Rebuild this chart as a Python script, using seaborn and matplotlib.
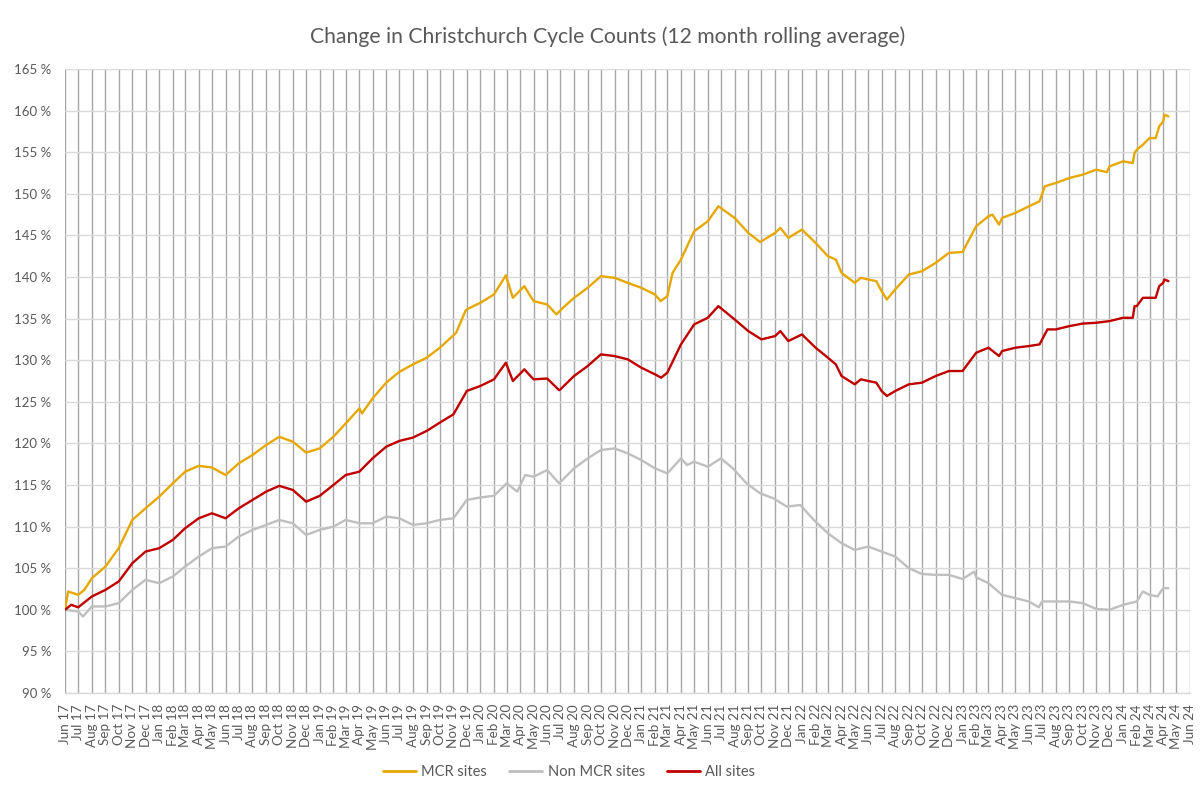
import pandas as pd
import numpy as np
import matplotlib
matplotlib.use("Agg")
import matplotlib.pyplot as plt
import matplotlib.dates as mdates
from matplotlib.ticker import MultipleLocator, FuncFormatter
from matplotlib.lines import Line2D
import seaborn as sns

# ---- data: 12 month rolling average, indexed to June 2017 = 100 % ----
mcr_dates = [
    "2017-06-01", "2017-06-08", "2017-07-01", "2017-07-15", "2017-08-01", "2017-09-01",
    "2017-10-01", "2017-11-01", "2017-12-01", "2018-01-01", "2018-02-01", "2018-03-01",
    "2018-04-01", "2018-05-01", "2018-06-01", "2018-07-01", "2018-08-01", "2018-09-01",
    "2018-10-01", "2018-11-01", "2018-12-01", "2019-01-01", "2019-02-01", "2019-03-01",
    "2019-04-01", "2019-04-07", "2019-05-01", "2019-06-01", "2019-07-01", "2019-08-01",
    "2019-09-01", "2019-10-01", "2019-11-01", "2019-11-07", "2019-11-28", "2019-12-01",
    "2020-01-01", "2020-02-01", "2020-02-28", "2020-03-15", "2020-04-10", "2020-05-01",
    "2020-06-01", "2020-06-22", "2020-07-07", "2020-08-01", "2020-09-01", "2020-10-01",
    "2020-11-01", "2020-12-01", "2021-01-01", "2021-02-01", "2021-02-14", "2021-03-01",
    "2021-03-13", "2021-04-01", "2021-05-01", "2021-06-01", "2021-06-25", "2021-08-01",
    "2021-09-01", "2021-09-28", "2021-11-01", "2021-11-13", "2021-12-01", "2022-01-01",
    "2022-02-01", "2022-03-01", "2022-03-19", "2022-04-01", "2022-05-01", "2022-05-15",
    "2022-06-01", "2022-06-19", "2022-07-01", "2022-07-13", "2022-08-01", "2022-09-01",
    "2022-10-01", "2022-11-01", "2022-12-01", "2023-01-01", "2023-02-01", "2023-03-01",
    "2023-03-10", "2023-03-25", "2023-04-01", "2023-05-01", "2023-06-01", "2023-06-25",
    "2023-07-07", "2023-08-01", "2023-09-01", "2023-10-01", "2023-11-01", "2023-11-25",
    "2023-12-01", "2024-01-01", "2024-01-23", "2024-01-27", "2024-02-01", "2024-02-15",
    "2024-03-01", "2024-03-15", "2024-03-23", "2024-04-01", "2024-04-04", "2024-04-13",
]
mcr_values = [
    100.0, 102.2, 101.8, 102.4, 103.8, 105.2,
    107.4, 110.8, 112.2, 113.6, 115.2, 116.6,
    117.3, 117.1, 116.2, 117.6, 118.6, 119.8,
    120.8, 120.2, 118.9, 119.4, 120.8, 122.4,
    124.2, 123.6, 125.4, 127.3, 128.6, 129.5,
    130.3, 131.5, 133.0, 133.3, 135.9, 136.1,
    136.9, 137.9, 140.2, 137.5, 138.9, 137.1,
    136.7, 135.5, 136.3, 137.5, 138.7, 140.1,
    139.9, 139.3, 138.7, 137.9, 137.1, 137.7,
    140.5, 142.1, 145.5, 146.7, 148.5, 147.1,
    145.3, 144.2, 145.3, 145.9, 144.7, 145.7,
    144.1, 142.5, 142.1, 140.5, 139.3, 139.9,
    139.7, 139.5, 138.3, 137.3, 138.5, 140.3,
    140.7, 141.7, 142.9, 143.0, 146.1, 147.3,
    147.5, 146.3, 147.1, 147.7, 148.5, 149.1,
    150.9, 151.3, 151.9, 152.3, 152.9, 152.6,
    153.3, 153.9, 153.7, 154.9, 155.3, 155.9,
    156.7, 156.7, 158.1, 158.7, 159.5, 159.3,
]

non_mcr_dates = [
    "2017-06-01", "2017-07-01", "2017-07-12", "2017-08-01", "2017-09-01", "2017-10-01",
    "2017-11-01", "2017-12-01", "2018-01-01", "2018-02-01", "2018-03-01", "2018-04-01",
    "2018-05-01", "2018-06-01", "2018-07-01", "2018-08-01", "2018-09-01", "2018-10-01",
    "2018-11-01", "2018-12-01", "2019-01-01", "2019-02-01", "2019-03-01", "2019-04-01",
    "2019-05-01", "2019-06-01", "2019-07-01", "2019-08-01", "2019-09-01", "2019-10-01",
    "2019-11-01", "2019-12-01", "2020-01-01", "2020-02-01", "2020-03-01", "2020-03-25",
    "2020-04-12", "2020-05-01", "2020-06-01", "2020-06-28", "2020-08-01", "2020-09-01",
    "2020-10-01", "2020-11-01", "2020-12-01", "2021-01-01", "2021-02-01", "2021-03-01",
    "2021-04-01", "2021-04-15", "2021-05-01", "2021-06-01", "2021-07-01", "2021-07-28",
    "2021-08-28", "2021-09-28", "2021-10-28", "2021-11-28", "2021-12-28", "2022-01-28",
    "2022-03-01", "2022-04-01", "2022-05-01", "2022-06-01", "2022-07-01", "2022-08-01",
    "2022-09-01", "2022-10-01", "2022-11-01", "2022-12-01", "2023-01-01", "2023-01-28",
    "2023-02-01", "2023-03-01", "2023-04-01", "2023-05-01", "2023-06-01", "2023-06-23",
    "2023-07-01", "2023-08-01", "2023-09-01", "2023-10-01", "2023-11-01", "2023-12-01",
    "2024-01-01", "2024-02-01", "2024-02-15", "2024-03-01", "2024-03-19", "2024-04-01",
    "2024-04-13",
]
non_mcr_values = [
    100.0, 99.8, 99.2, 100.4, 100.4, 100.8,
    102.4, 103.6, 103.2, 104.0, 105.2, 106.4,
    107.4, 107.6, 108.8, 109.6, 110.2, 110.8,
    110.4, 109.0, 109.6, 110.0, 110.8, 110.4,
    110.4, 111.2, 111.0, 110.2, 110.4, 110.8,
    111.0, 113.2, 113.5, 113.7, 115.2, 114.2,
    116.2, 116.0, 116.8, 115.2, 117.0, 118.2,
    119.2, 119.4, 118.8, 118.0, 117.0, 116.4,
    118.2, 117.4, 117.8, 117.2, 118.2, 117.0,
    115.2, 114.0, 113.4, 112.4, 112.6, 110.8,
    109.2, 108.0, 107.2, 107.6, 107.0, 106.4,
    105.0, 104.3, 104.2, 104.2, 103.7, 104.6,
    103.9, 103.2, 101.8, 101.4, 101.0, 100.3,
    101.0, 101.0, 101.0, 100.8, 100.1, 100.0,
    100.6, 101.0, 102.2, 101.8, 101.6, 102.6,
    102.6,
]

all_dates = [
    "2017-06-01", "2017-06-15", "2017-07-01", "2017-08-01", "2017-09-01", "2017-10-01",
    "2017-11-01", "2017-12-01", "2018-01-01", "2018-02-01", "2018-03-01", "2018-04-01",
    "2018-05-01", "2018-06-01", "2018-07-01", "2018-08-01", "2018-09-01", "2018-10-01",
    "2018-11-01", "2018-12-01", "2019-01-01", "2019-02-01", "2019-03-01", "2019-04-01",
    "2019-05-01", "2019-06-01", "2019-07-01", "2019-08-01", "2019-09-01", "2019-10-01",
    "2019-11-01", "2019-11-28", "2019-12-01", "2020-01-01", "2020-02-01", "2020-02-28",
    "2020-03-15", "2020-04-10", "2020-05-01", "2020-06-01", "2020-06-28", "2020-07-01",
    "2020-08-01", "2020-09-01", "2020-10-01", "2020-11-01", "2020-12-01", "2021-01-01",
    "2021-02-01", "2021-02-15", "2021-03-01", "2021-04-01", "2021-05-01", "2021-06-01",
    "2021-06-25", "2021-08-01", "2021-09-01", "2021-10-01", "2021-11-01", "2021-11-13",
    "2021-12-01", "2022-01-01", "2022-02-01", "2022-03-01", "2022-03-19", "2022-04-01",
    "2022-05-01", "2022-05-15", "2022-06-01", "2022-06-19", "2022-07-01", "2022-07-13",
    "2022-08-01", "2022-09-01", "2022-10-01", "2022-11-01", "2022-12-01", "2023-01-01",
    "2023-02-01", "2023-03-01", "2023-03-25", "2023-04-01", "2023-05-01", "2023-06-01",
    "2023-06-25", "2023-07-13", "2023-08-01", "2023-09-01", "2023-10-01", "2023-11-01",
    "2023-12-01", "2024-01-01", "2024-01-23", "2024-01-27", "2024-02-01", "2024-02-15",
    "2024-03-01", "2024-03-15", "2024-03-23", "2024-04-01", "2024-04-04", "2024-04-13",
]
all_values = [
    100.0, 100.6, 100.3, 101.6, 102.4, 103.4,
    105.6, 107.0, 107.4, 108.4, 109.8, 111.0,
    111.6, 111.0, 112.2, 113.2, 114.2, 114.9,
    114.4, 113.0, 113.7, 115.0, 116.2, 116.6,
    118.2, 119.6, 120.3, 120.7, 121.5, 122.5,
    123.5, 126.0, 126.3, 126.9, 127.7, 129.7,
    127.5, 128.9, 127.7, 127.8, 126.4, 126.5,
    128.1, 129.3, 130.7, 130.5, 130.1, 129.1,
    128.3, 127.9, 128.5, 131.9, 134.3, 135.1,
    136.5, 134.9, 133.5, 132.5, 132.9, 133.5,
    132.3, 133.1, 131.5, 130.3, 129.5, 128.1,
    127.1, 127.7, 127.5, 127.3, 126.3, 125.7,
    126.3, 127.1, 127.3, 128.1, 128.7, 128.7,
    130.9, 131.5, 130.5, 131.1, 131.5, 131.7,
    131.9, 133.7, 133.7, 134.1, 134.4, 134.5,
    134.7, 135.1, 135.1, 136.5, 136.5, 137.5,
    137.5, 137.5, 138.9, 139.3, 139.7, 139.5,
]

series_names = ["MCR sites", "Non MCR sites", "All sites"]
series_colors = {"MCR sites": "#E6A800", "Non MCR sites": "#BFBFBF", "All sites": "#C00000"}

frames = []
for name, d, v in zip(series_names,
                      [mcr_dates, non_mcr_dates, all_dates],
                      [mcr_values, non_mcr_values, all_values]):
    frames.append(pd.DataFrame({"date": pd.to_datetime(d), "pct": v, "series": name}))
df = pd.concat(frames, ignore_index=True)

# ---- styling ----
sns.set_style("white")
plt.rcParams["font.family"] = ["Lato", "DejaVu Sans"]
text_grey = "#595959"

fig = plt.figure(figsize=(12.04, 7.90), dpi=100)
ax = fig.add_axes([65 / 1204, 1 - 693 / 790, (1190 - 65) / 1204, (693 - 69) / 790])

for name in series_names:
    sns.lineplot(data=df[df["series"] == name], x="date", y="pct", ax=ax,
                 color=series_colors[name], lw=1.7, estimator=None, legend=False)

ax.set_xlim(pd.Timestamp("2017-06-01"), pd.Timestamp("2024-06-01"))
ax.set_ylim(90, 165)
ax.yaxis.set_major_locator(MultipleLocator(5))
ax.yaxis.set_major_formatter(FuncFormatter(lambda v, _: f"{v:.0f} %"))
ax.xaxis.set_major_locator(mdates.MonthLocator())
ax.xaxis.set_major_formatter(mdates.DateFormatter("%b %y"))

ax.grid(axis="y", color="#D9D9D9", lw=1.0)
ax.grid(axis="x", color="#A6A6A6", lw=1.0)
ax.set_axisbelow(True)

for s in ["top", "right", "left"]:
    ax.spines[s].set_visible(False)
ax.spines["bottom"].set_color("#D9D9D9")
ax.spines["bottom"].set_linewidth(1.0)

ax.tick_params(axis="y", length=0, pad=10, labelsize=9.5, labelcolor=text_grey)
ax.tick_params(axis="x", length=4, width=0.8, color="#BFBFBF", pad=4,
               labelsize=9.7, labelcolor=text_grey, labelrotation=90)
ax.set_xlabel("")
ax.set_ylabel("")

fig.suptitle("Change in Christchurch Cycle Counts (12 month rolling average)",
             x=0.505, y=1 - 37 / 790, va="center", fontsize=15.2, color=text_grey)

handles = [Line2D([0], [0], color=series_colors[n], lw=2.0) for n in series_names]
fig.legend(handles, series_names, loc="center", bbox_to_anchor=(569 / 1204, 1 - 772 / 790),
           ncol=3, frameon=False, fontsize=10.5, labelcolor=text_grey,
           handlelength=2.3, handletextpad=0.35, columnspacing=1.5)

fig.savefig("out.png", dpi=100)
